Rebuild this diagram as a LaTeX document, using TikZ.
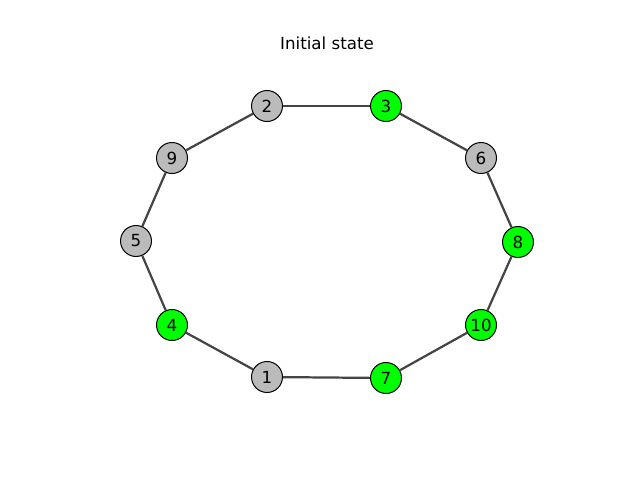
\documentclass[tikz,border=0pt]{standalone}
\usepackage{fontspec}
\setmainfont{DejaVu Sans}
\usepackage{tikz}
\definecolor{nodegray}{RGB}{187,187,187}
\definecolor{nodegreen}{RGB}{0,255,0}
\definecolor{edgegray}{RGB}{68,68,68}

\begin{document}
\begin{tikzpicture}[x=0.72pt,y=-0.72pt]
\tikzstyle{vertex}=[circle,draw=black,line width=0.72pt,minimum size=22.3pt,inner sep=0pt,font=\fontsize{12}{14}\selectfont]
\tikzstyle{link}=[draw=edgegray,line width=1.6pt]
\useasboundingbox (0,0) rectangle (640,480);

\node [font=\fontsize{12}{14}\selectfont] (title) at (327,43) {Initial state};

\node [vertex, fill=nodegray] (n2) at (267,106) {2};
\node [vertex, fill=nodegreen] (n3) at (386,106) {3};
\node [vertex, fill=nodegray] (n6) at (481,158) {6};
\node [vertex, fill=nodegreen] (n8) at (518,242) {8};
\node [vertex, fill=nodegreen] (n10) at (481,325) {10};
\node [vertex, fill=nodegreen] (n7) at (386,378) {7};
\node [vertex, fill=nodegray] (n1) at (267,377) {1};
\node [vertex, fill=nodegreen] (n4) at (172,325) {4};
\node [vertex, fill=nodegray] (n5) at (136,241) {5};
\node [vertex, fill=nodegray] (n9) at (172,158) {9};

\draw[link] (n2) -- (n3);
\draw[link] (n3) -- (n6);
\draw[link] (n6) -- (n8);
\draw[link] (n8) -- (n10);
\draw[link] (n10) -- (n7);
\draw[link] (n7) -- (n1);
\draw[link] (n1) -- (n4);
\draw[link] (n4) -- (n5);
\draw[link] (n5) -- (n9);
\draw[link] (n9) -- (n2);

\end{tikzpicture}
\end{document}
